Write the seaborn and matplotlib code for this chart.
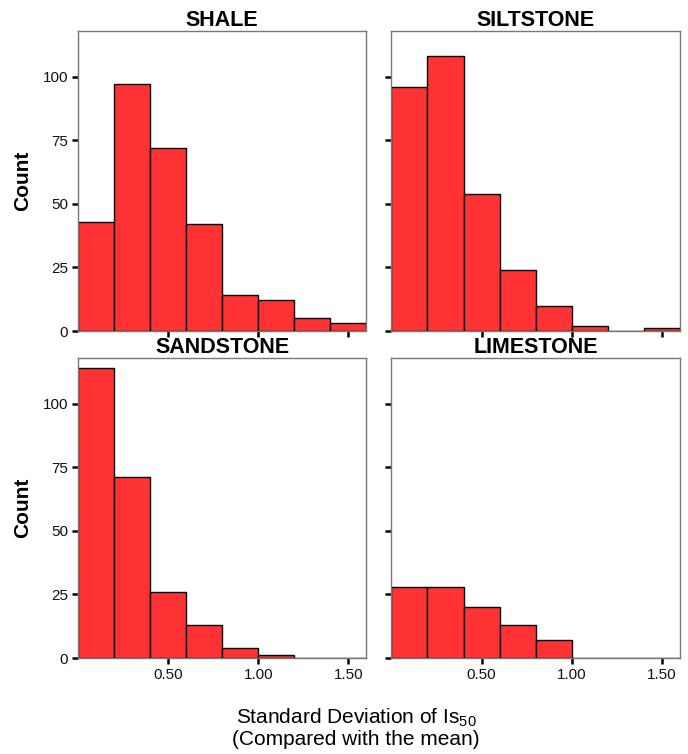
import numpy as np
import pandas as pd
import matplotlib
matplotlib.use("Agg")
import matplotlib.pyplot as plt
import seaborn as sns

# =========================
# DATA (counts per 0.2-wide bin)
# =========================
bin_edges = [0.0, 0.2, 0.4, 0.6, 0.8, 1.0, 1.2, 1.4, 1.6]
bin_centers = [0.1, 0.3, 0.5, 0.7, 0.9, 1.1, 1.3, 1.5]

rock_types = ["SHALE", "SILTSTONE", "SANDSTONE", "LIMESTONE"]
shale = [43, 97, 72, 42, 14, 12, 5, 3]
siltstone = [96, 108, 54, 24, 10, 2, 0, 1]
sandstone = [114, 71, 26, 13, 4, 1, 0, 0]
limestone = [28, 28, 20, 13, 7, 0, 0, 0]

x_ticks = [0.5, 1.0, 1.5]
x_tick_labels = ["0.50", "1.00", "1.50"]
y_ticks = [0, 25, 50, 75, 100]

counts = {
    "SHALE": shale,
    "SILTSTONE": siltstone,
    "SANDSTONE": sandstone,
    "LIMESTONE": limestone,
}

# =========================
# STYLE
# =========================
sns.set_style("ticks")
plt.rcParams["font.family"] = ["Liberation Sans", "DejaVu Sans"]
plt.rcParams["mathtext.default"] = "regular"
plt.rcParams["text.color"] = "black"
plt.rcParams["axes.labelcolor"] = "black"

bar_color = "#FF3333"
spine_color = "#777777"

fig, axes = plt.subplots(2, 2, figsize=(6.88, 7.54), dpi=100)
fig.subplots_adjust(left=0.1134, right=0.988, top=0.9589, bottom=0.1273,
                    wspace=0.087, hspace=0.09)

for i, (ax, rock) in enumerate(zip(axes.flat, rock_types)):
    sns.histplot(x=bin_centers, weights=counts[rock], bins=bin_edges, ax=ax,
                 color=bar_color, edgecolor="black", linewidth=1.0, alpha=1)
    ax.set_xlim(0, 1.6)
    ax.set_ylim(0, 118)
    ax.set_xticks(x_ticks)
    ax.set_yticks(y_ticks)
    ax.set_title(rock, fontsize=15.5, fontweight="bold", pad=3, color="black")

    for s in ax.spines.values():
        s.set_visible(True)
        s.set_color(spine_color)
        s.set_linewidth(1.0)

    ax.tick_params(axis="both", direction="out", length=4, width=1.8,
                   color="black", labelsize=11, labelcolor="#111111", pad=3)

    row, col = divmod(i, 2)
    if row == 1:
        ax.set_xticklabels(x_tick_labels)
    else:
        ax.set_xticklabels([])
    if col == 0:
        ax.set_ylabel("Count", fontsize=15, fontweight="bold", labelpad=8,
                      color="black")
    else:
        ax.set_yticklabels([])
        ax.set_ylabel("")
    ax.set_xlabel("")

fig.text(0.5175, 0.006, "Standard Deviation of Is$_{50}$\n(Compared with the mean)",
         ha="center", va="bottom", fontsize=15, multialignment="center",
         linespacing=1.08, color="black")

plt.savefig("out.png", dpi=100)
plt.close()
